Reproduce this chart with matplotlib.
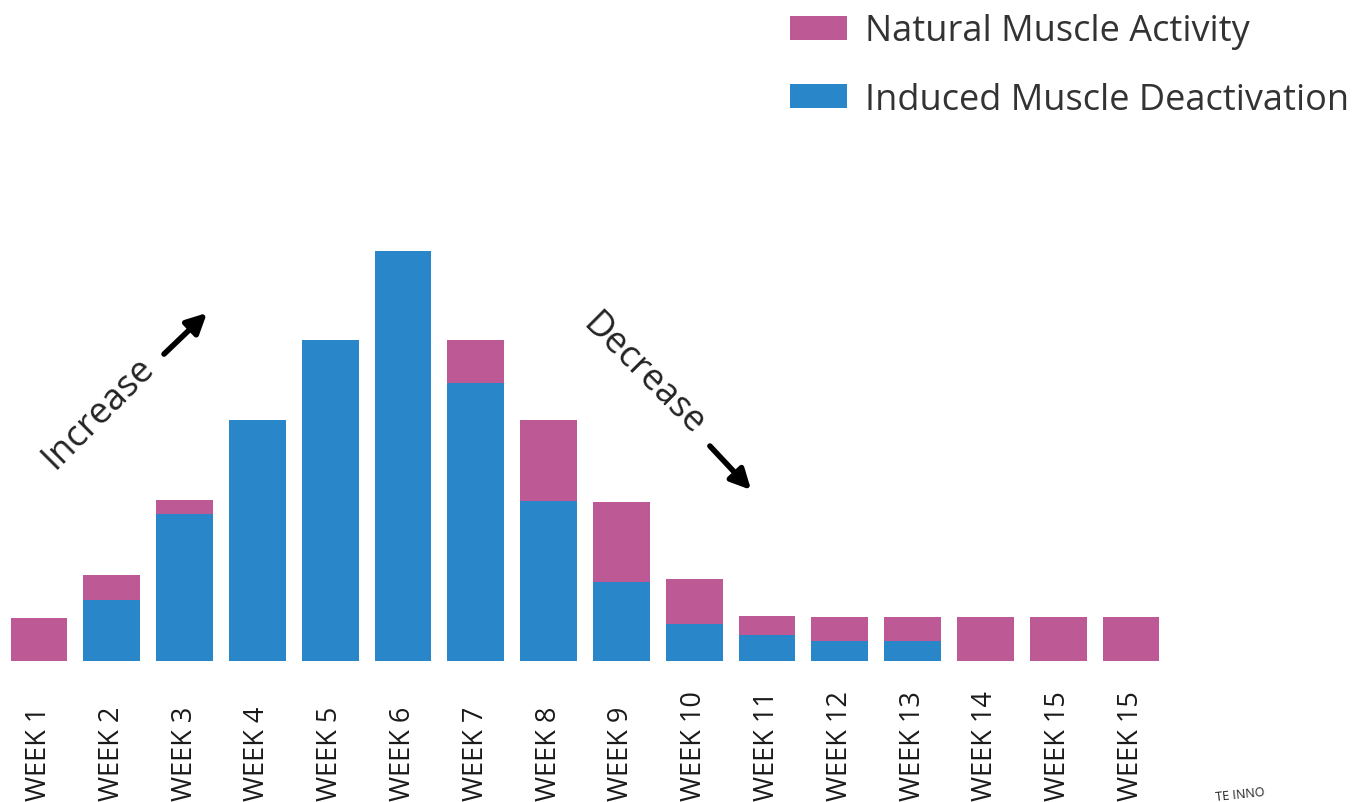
import matplotlib
matplotlib.use("Agg")
import matplotlib.pyplot as plt
from matplotlib.transforms import blended_transform_factory

plt.rcParams['font.family'] = ['Open Sans', 'DejaVu Sans']

weeks = ["WEEK 1", "WEEK 2", "WEEK 3", "WEEK 4", "WEEK 5", "WEEK 6", "WEEK 7", "WEEK 8",
         "WEEK 9", "WEEK 10", "WEEK 11", "WEEK 12", "WEEK 13", "WEEK 14", "WEEK 15", "WEEK 15"]
induced = [0, 6.1, 14.7, 24.1, 32.1, 41.0, 27.8, 16.0, 7.9, 3.7, 2.6, 2.0, 2.0, 0, 0, 0]
natural = [4.3, 2.5, 1.4, 0, 0, 0, 4.3, 8.1, 8.0, 4.5, 1.9, 2.4, 2.4, 4.4, 4.4, 4.4]

PINK = "#BD5A96"
BLUE = "#2986C9"

W, H = 1365, 803
fig = plt.figure(figsize=(W / 100, H / 100), dpi=100)
ax = fig.add_axes([0, 141 / H, 1, 662 / H])
x = list(range(len(weeks)))
b1 = ax.bar(x, induced, width=0.78, color=BLUE, label="Induced Muscle Deactivation")
b2 = ax.bar(x, natural, width=0.78, bottom=induced, color=PINK, label="Natural Muscle Activity")
step = 72.8
ax.set_xlim(-39 / step, (W - 39) / step)
ax.set_ylim(0, 66.2)
ax.axis('off')

tr = blended_transform_factory(ax.transData, fig.transFigure)
for i, lab in enumerate(weeks):
    ax.text(i, 2 / H, lab, transform=tr, rotation=90, ha='center', va='bottom',
            fontsize=19.5, color='#1a1a1a')

fig.legend([b2, b1], ["Natural Muscle Activity", "Induced Muscle Deactivation"],
           loc='upper left', bbox_to_anchor=(757 / W, 1 + 18 / H), frameon=False,
           fontsize=26, handlelength=1.58, handleheight=0.67, handletextpad=0.5,
           labelspacing=0.89, labelcolor='#333333')

fig.text(98 / W, 1 - 413 / H, "Increase", rotation=45, ha='center', va='center',
         fontsize=26, color='#222222')
fig.text(643 / W, 1 - 375 / H, "Decrease", rotation=-45, ha='center', va='center',
         fontsize=26, color='#222222')
fig.add_artist(matplotlib.patches.FancyArrowPatch(
    (162 / W, 1 - 357 / H), (209 / W, 1 - 312 / H), transform=fig.transFigure,
    arrowstyle='-|>', mutation_scale=30, lw=4, color='black'))
fig.add_artist(matplotlib.patches.FancyArrowPatch(
    (708 / W, 1 - 445 / H), (753 / W, 1 - 493 / H), transform=fig.transFigure,
    arrowstyle='-|>', mutation_scale=30, lw=4, color='black'))

fig.text(1215 / W, 1 - 786 / H, "TE INNO", fontsize=9, ha='left', va='top',
         color='#222222', rotation=6)

fig.savefig("out.png", dpi=100)
